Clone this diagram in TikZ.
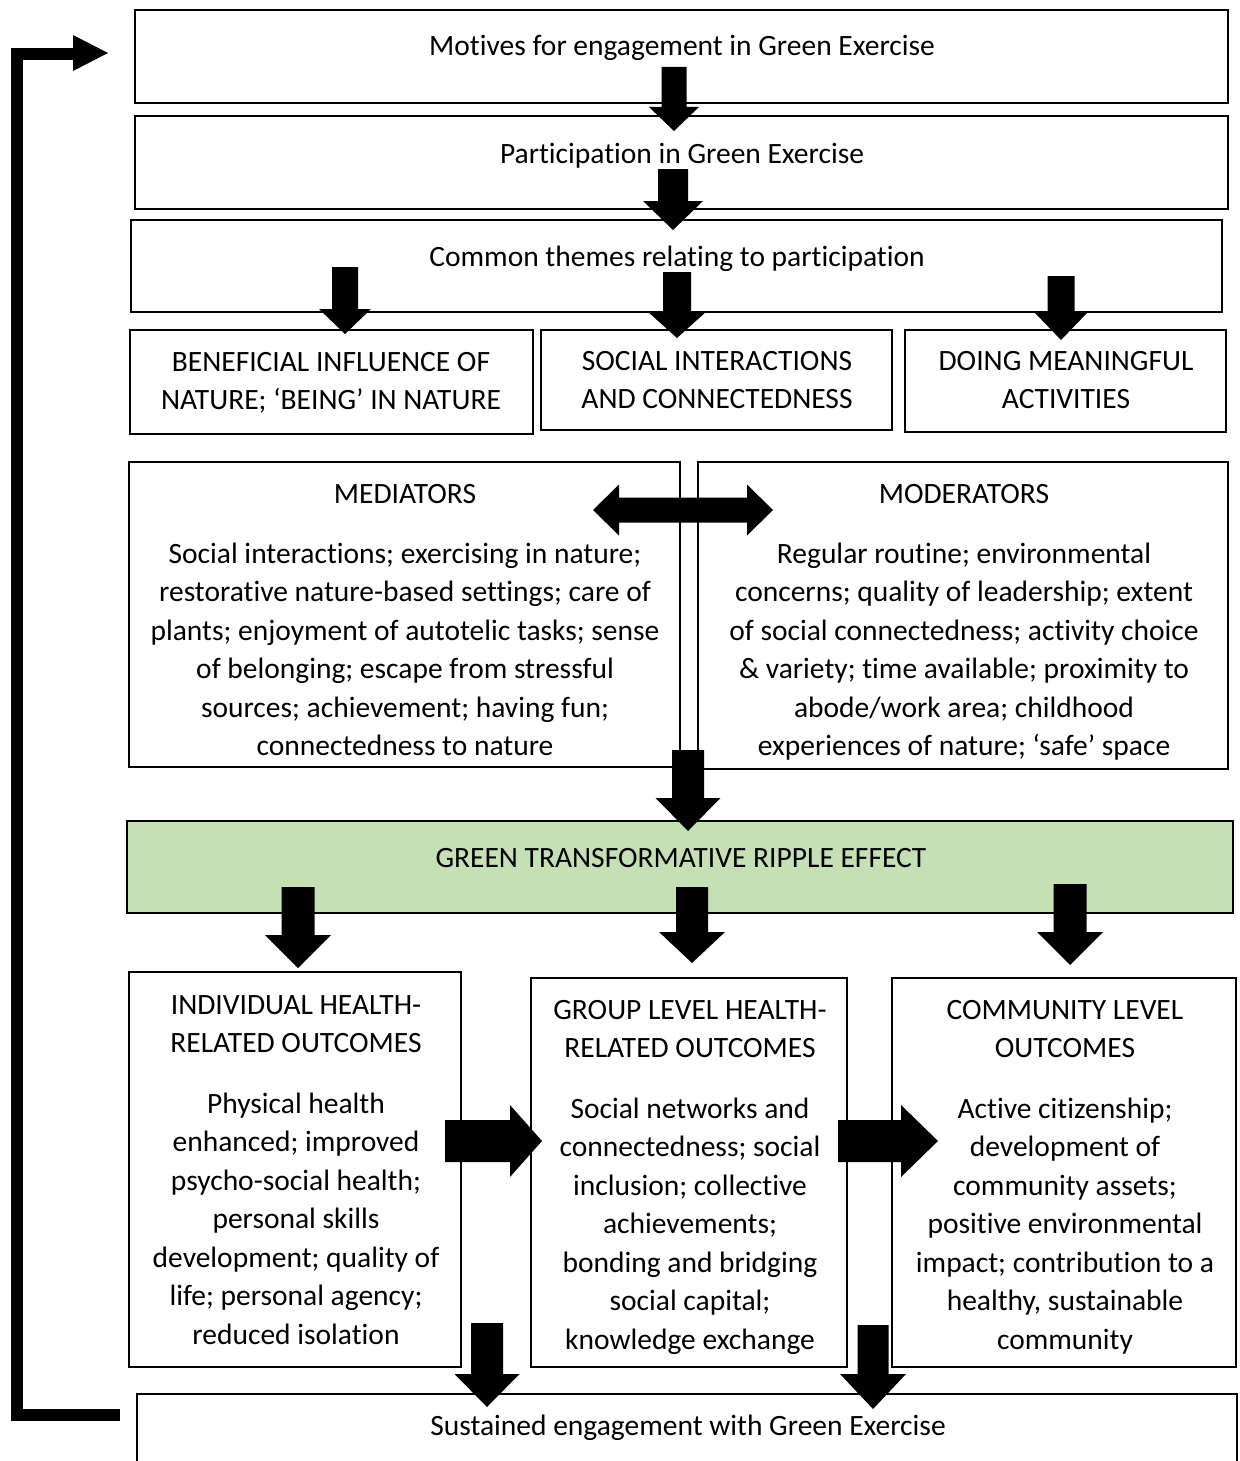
\documentclass[tikz,border=0pt]{standalone}
\usepackage{fontspec}
\setmainfont{Carlito}[Ligatures=NoCommon]
\usetikzlibrary{fit}
\definecolor{ripple}{HTML}{C5E0B4}
\tikzset{
  box/.style={draw, line width=2.5pt, inner sep=0pt, rectangle},
  txt/.style={font=\fontsize{29.5}{38.5}\selectfont, align=center, inner sep=0pt, anchor=base},
  blk/.style={fill=black},
}
% down block arrow: cx, ytop, ybase, ytip, shaft half, head half
\newcommand\blkdown[6]{\fill[blk] (#1-#5,#2) -- (#1+#5,#2) -- (#1+#5,#3) -- (#1+#6,#3) -- (#1,#4) -- (#1-#6,#3) -- (#1-#5,#3) -- cycle;}
% right block arrow: cy, xleft, xbase, xtip, shaft half, head half
\newcommand\blkright[6]{\fill[blk] (#2,#1-#5) -- (#3,#1-#5) -- (#3,#1-#6) -- (#4,#1) -- (#3,#1+#6) -- (#3,#1+#5) -- (#2,#1+#5) -- cycle;}
\begin{document}
\begin{tikzpicture}[x=1pt,y=-1pt]
\useasboundingbox (0,0) rectangle (1239,1461);
\fill[white] (0,0) rectangle (1239,1461);

% boxes
\node[box, fit={(135,10) (1228,103)}] (motives) {};
\node[box, fit={(135,116) (1228,209)}] (particip) {};
\node[box, fit={(131,220) (1222,312)}] (themes) {};
\node[box, fit={(130,330) (533,434)}] (benef) {};
\node[box, fit={(541,330) (892,430)}] (social) {};
\node[box, fit={(905,330) (1226,432)}] (doing) {};
\node[box, fit={(129,462) (680,767)}] (medi) {};
\node[box, fit={(698,462) (1228,769)}] (mode) {};
\node[box, fill=ripple, fit={(127,821) (1233,913)}] (ripple) {};
\node[box, fit={(129,972) (461,1367)}] (indiv) {};
\node[box, fit={(531,978) (847,1367)}] (group) {};
\node[box, fit={(892,978) (1236,1367)}] (commu) {};
\node[box, fit={(137,1394) (1237,1475)}] (sustain) {};

% texts (anchor = baseline of the last line)
\node[txt] (motivesT) at (682,56) {Motives for engagement in Green Exercise};
\node[txt] (participT) at (682,163) {Participation in Green Exercise};
\node[txt] (themesT) at (677,266) {Common themes relating to participation};
\node[txt] (benefT) at (331,409.5) {BENEFICIAL INFLUENCE OF\\NATURE; ‘BEING’ IN NATURE};
\node[txt] (socialT) at (717,408.5) {SOCIAL INTERACTIONS\\AND CONNECTEDNESS};
\node[txt] (doingT) at (1066,408.5) {DOING MEANINGFUL\\ACTIVITIES};
\node[txt] (mediT) at (405,503) {MEDIATORS};
\node[txt] (mediB) at (405,755.5) {Social interactions; exercising in nature;\\restorative nature-based settings; care of\\plants; enjoyment of autotelic tasks; sense\\of belonging; escape from stressful\\sources; achievement; having fun;\\connectedness to nature};
\node[txt] (modeT) at (964,503) {MODERATORS};
\node[txt] (modeB) at (964,755.5) {Regular routine; environmental\\concerns; quality of leadership; extent\\of social connectedness; activity choice\\\& variety; time available; proximity to\\abode/work area; childhood\\experiences of nature; ‘safe’ space};
\node[txt] (rippleT) at (681,867) {GREEN TRANSFORMATIVE RIPPLE EFFECT};
\node[txt] (indivT) at (296,1052.5) {INDIVIDUAL HEALTH-\\RELATED OUTCOMES};
\node[txt] (indivB) at (296,1344) {Physical health\\enhanced; improved\\psycho-social health;\\personal skills\\development; quality of\\life; personal agency;\\reduced isolation};
\node[txt] (groupT) at (690,1057.5) {GROUP LEVEL HEALTH-\\RELATED OUTCOMES};
\node[txt] (groupB) at (690,1349) {Social networks and\\connectedness; social\\inclusion; collective\\achievements;\\bonding and bridging\\social capital;\\knowledge exchange};
\node[txt] (commuT) at (1065,1057.5) {COMMUNITY LEVEL\\OUTCOMES};
\node[txt] (commuB) at (1065,1349) {Active citizenship;\\development of\\community assets;\\positive environmental\\impact; contribution to a\\healthy, sustainable\\community};
\node[txt] (sustainT) at (688,1435) {Sustained engagement with Green Exercise};

% block arrows
\blkdown{674}{67}{107}{131}{12.5}{25}
\blkdown{673}{169}{201}{230}{15}{30}
\blkdown{345}{267}{309}{334}{13}{26}
\blkdown{677}{272}{311}{338}{14}{30}
\blkdown{1061}{276}{313}{340}{13.5}{26}
\fill[blk] (593,510) -- (619,484.5) -- (619,497.5) -- (747,497.5) -- (747,484.5) -- (773,510) -- (747,535.5) -- (747,522.5) -- (619,522.5) -- (619,535.5) -- cycle;
\blkdown{688}{750}{798}{831}{16}{32.5}
\blkdown{298}{887}{935}{968}{16.5}{33}
\blkdown{692}{887}{932}{963}{16}{33}
\blkdown{1070}{884}{932}{965}{16.5}{33}
\blkright{1141}{445}{510}{542}{21}{36}
\blkright{1141}{838}{901}{938}{21}{36}
\blkdown{487}{1323}{1374}{1407}{16}{32.5}
\blkdown{873}{1325}{1374}{1409}{15.5}{33}

% feedback loop
\coordinate (fbs) at (120,1415);
\coordinate (fbe) at (75,54);
\draw[line width=12pt] (fbs) -- (17,1415) -- (17,54) -- (fbe);
\fill[blk] (73,35) -- (108,53) -- (73,71) -- cycle;
\end{tikzpicture}
\end{document}
